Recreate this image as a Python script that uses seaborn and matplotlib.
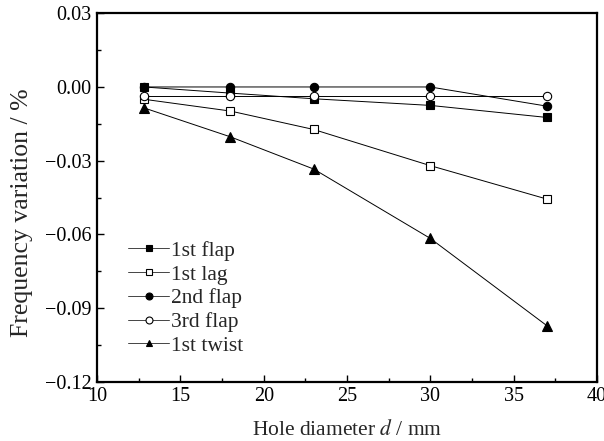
import numpy as np
import pandas as pd
import matplotlib
matplotlib.use("Agg")
import matplotlib.pyplot as plt
from matplotlib.ticker import MultipleLocator
import seaborn as sns

# hole diameter (mm)
diameters = [12.8, 18, 23, 30, 37]

# frequency variation (%) per mode
first_flap = [0.0, -0.0025, -0.0048, -0.0075, -0.0124]
first_lag = [-0.005, -0.0098, -0.0173, -0.032, -0.0456]
second_flap = [0.0, 0.0, 0.0, 0.0, -0.0078]
third_flap = [-0.0036, -0.0036, -0.0036, -0.0036, -0.0036]
first_twist = [-0.0085, -0.0203, -0.0334, -0.0616, -0.0971]

mode_names = ["1st flap", "1st lag", "2nd flap", "3rd flap", "1st twist"]
mode_values = [first_flap, first_lag, second_flap, third_flap, first_twist]
markers = ["s", "s", "o", "o", "^"]
msizes = [5.5, 5.5, 6, 6, 6.5]
filled = [True, False, True, False, True]

sns.set_theme(style="ticks")
plt.rcParams["font.family"] = ["Liberation Serif", "DejaVu Serif"]
plt.rcParams["mathtext.fontset"] = "stix"

fig, ax = plt.subplots(figsize=(6.04, 4.41), dpi=100)

for name, vals, mk, ms, fill in zip(mode_names, mode_values, markers, msizes, filled):
    df = pd.DataFrame({"d": diameters, "v": vals})
    sns.lineplot(data=df, x="d", y="v", ax=ax, color="black", linewidth=0.7,
                 marker=mk, markersize=ms, markeredgecolor="black",
                 markeredgewidth=0.8,
                 markerfacecolor="black" if fill else "white",
                 label=name)

ax.set_xlim(10, 40)
ax.set_ylim(-0.12, 0.03)
ax.xaxis.set_major_locator(MultipleLocator(5))
ax.xaxis.set_minor_locator(MultipleLocator(2.5))
ax.yaxis.set_major_locator(MultipleLocator(0.03))
ax.yaxis.set_minor_locator(MultipleLocator(0.015))
ax.yaxis.set_major_formatter(lambda v, p: f"{v:.2f}".replace("-", "\u2212"))

ax.tick_params(which="both", direction="in", top=False, right=False,
               labelsize=14.5, colors="black")
ax.tick_params(which="major", length=5, width=1, pad=4)
ax.tick_params(which="minor", length=3, width=1)
for sp in ax.spines.values():
    sp.set_linewidth(1.6)
    sp.set_color("black")

ax.set_xlabel("Hole diameter $d$ / mm", fontsize=15.5, labelpad=10)
ax.set_ylabel("Frequency variation / %", fontsize=18.5)
ax.yaxis.set_label_coords(-0.128, 0.458)

leg = ax.legend(loc="upper left", bbox_to_anchor=(0.045, 0.406), frameon=False,
                fontsize=15.5, handlelength=1.9, handletextpad=0.1,
                labelspacing=0.17, borderaxespad=0)
for h in leg.legend_handles:
    h.set_markersize(5)
    h.set_linewidth(0.7)
    h.set_color("#444444")
    h.set_markeredgecolor("black")

fig.subplots_adjust(left=0.161, right=0.988, top=0.97, bottom=0.134)
fig.savefig("out.png", dpi=100)
